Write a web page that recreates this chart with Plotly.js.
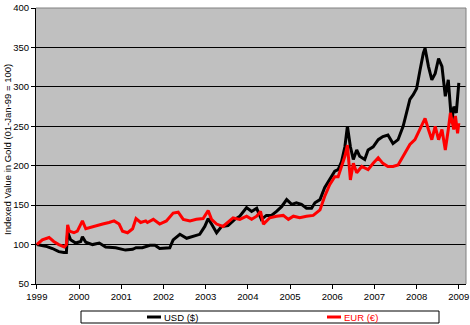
<!DOCTYPE html>
<html>
<head>
<meta charset="utf-8">
<script src="https://cdn.plot.ly/plotly-3.0.1.min.js"></script>
<style>html,body{margin:0;padding:0;background:#fff;}#chart{width:470px;height:325px;}</style>
</head>
<body>
<div id="chart"></div>
<script>
// Decimal-year time points and values
const usdYears = [1999.00,1999.10,1999.21,1999.37,1999.52,1999.64,1999.70,1999.73,1999.80,1999.92,2000.04,2000.08,2000.16,2000.32,2000.48,2000.63,2000.87,2001.10,2001.27,2001.35,2001.50,2001.68,2001.80,2001.91,2002.15,2002.23,2002.39,2002.55,2002.70,2002.86,2002.98,2003.06,2003.14,2003.26,2003.38,2003.53,2003.69,2003.81,2003.97,2004.09,2004.21,2004.32,2004.44,2004.56,2004.68,2004.80,2004.92,2005.04,2005.15,2005.27,2005.39,2005.51,2005.59,2005.71,2005.82,2005.94,2006.06,2006.14,2006.22,2006.30,2006.36,2006.43,2006.50,2006.58,2006.65,2006.77,2006.85,2006.97,2007.09,2007.20,2007.32,2007.44,2007.56,2007.68,2007.76,2007.84,2007.92,2008.00,2008.08,2008.16,2008.20,2008.28,2008.36,2008.44,2008.52,2008.60,2008.68,2008.75,2008.83,2008.88,2008.94,2009.00];
const usdValues = [100,99,98,95,91,90,90,116,106,102,104,110,103,100,102,97,96,93,94,96,96,99,99,95,96,106,113,108,110,113,123,133,126,115,123,124,132,136,147,142,146,132,137,137,142,148,157,151,153,151,146,146,153,157,172,182,193,195,205,224,250,224,208,220,212,208,220,224,233,237,239,228,233,250,269,284,290,298,321,343,349,326,309,317,336,326,288,309,254,275,267,305];

const eurYears = [1999.00,1999.13,1999.29,1999.40,1999.52,1999.65,1999.70,1999.73,1999.77,1999.88,1999.96,2000.08,2000.16,2000.28,2000.44,2000.56,2000.71,2000.83,2000.95,2001.03,2001.15,2001.27,2001.35,2001.46,2001.58,2001.62,2001.76,2001.91,2002.07,2002.23,2002.35,2002.47,2002.63,2002.78,2002.94,2003.06,2003.14,2003.26,2003.41,2003.53,2003.65,2003.81,2003.97,2004.09,2004.21,2004.30,2004.37,2004.52,2004.68,2004.84,2004.96,2005.08,2005.23,2005.39,2005.55,2005.71,2005.82,2005.94,2006.06,2006.14,2006.22,2006.30,2006.36,2006.43,2006.50,2006.58,2006.70,2006.85,2006.97,2007.09,2007.20,2007.32,2007.44,2007.56,2007.68,2007.76,2007.84,2007.96,2008.08,2008.20,2008.28,2008.36,2008.44,2008.52,2008.60,2008.68,2008.75,2008.80,2008.88,2008.92,2008.97,2009.00];
const eurValues = [100,106,109,104,100,97,100,125,117,115,117,130,120,122,124,126,128,130,126,117,115,120,133,128,130,128,132,126,130,140,141,132,130,132,133,143,132,126,123,128,134,132,136,132,136,142,126,134,136,137,132,136,134,136,137,144,161,176,186,186,199,212,226,182,203,191,199,195,203,210,203,199,199,201,212,220,227,233,246,260,246,233,250,233,246,220,246,267,246,263,241,254];

const xTickVals = [1999,2000,2001,2002,2003,2004,2005,2006,2007,2008,2009];
const xTickText = ['1999','2000','2001','2002','2003','2004','2005','2006','2007','2008','2009'];
const seriesNames = ['USD ($)', 'EUR (\u20AC)'];
const yTitle = 'Indexed Value in Gold (01-Jan-99 = 100)';

const W = 470, H = 325, M = {l:36, r:4, t:8, b:41};
const pw = W - M.l - M.r, ph = H - M.t - M.b;
const px = x => (x - M.l) / pw;          // pixel -> paper x
const py = y => (H - M.b - y) / ph;      // pixel -> paper y
const FONT = 'Arial, "Liberation Sans", sans-serif';

const traces = [
  {x: usdYears, y: usdValues, name: seriesNames[0], type: 'scatter', mode: 'lines',
   line: {color: '#000000', width: 3}},
  {x: eurYears, y: eurValues, name: seriesNames[1], type: 'scatter', mode: 'lines',
   line: {color: '#FF0000', width: 3}}
];

const layout = {
  width: W, height: H,
  margin: M,
  paper_bgcolor: '#FFFFFF',
  plot_bgcolor: '#C0C0C0',
  showlegend: false,
  font: {family: FONT, size: 10, color: '#000'},
  xaxis: {
    type: 'linear', range: [1998.98, 2009.17],
    tickmode: 'array', tickvals: xTickVals, ticktext: xTickText,
    ticks: 'outside', ticklen: 4, tickcolor: '#000', tickwidth: 1,
    showgrid: false, zeroline: false,
    showline: true, linecolor: '#000', linewidth: 1,
    tickfont: {family: FONT, size: 9.5, color: '#000'}
  },
  yaxis: {
    range: [50, 400], dtick: 50, tick0: 50,
    ticks: 'outside', ticklen: 4, tickcolor: '#000', tickwidth: 1,
    showgrid: true, gridcolor: '#000', gridwidth: 1,
    zeroline: false,
    showline: true, linecolor: '#000', linewidth: 1,
    tickfont: {family: FONT, size: 9.5, color: '#000'}
  },
  shapes: [
    {type: 'line', xref: 'paper', yref: 'paper', x0: 0, x1: 1, y0: 1, y1: 1,
     line: {color: '#808080', width: 1}},
    {type: 'line', xref: 'paper', yref: 'paper', x0: 1, x1: 1, y0: 0, y1: 1,
     line: {color: '#808080', width: 1}},
    {type: 'rect', xref: 'paper', yref: 'paper', x0: px(81), x1: px(439), y0: py(311), y1: py(323),
     line: {color: '#000', width: 1}, fillcolor: '#FFFFFF'},
    {type: 'line', xref: 'paper', yref: 'paper', x0: px(147), x1: px(161), y0: py(317), y1: py(317),
     line: {color: '#000', width: 3}},
    {type: 'line', xref: 'paper', yref: 'paper', x0: px(327), x1: px(341), y0: py(317), y1: py(317),
     line: {color: '#FF0000', width: 3}}
  ],
  annotations: [
    {text: yTitle, xref: 'paper', yref: 'paper', x: px(7), y: py(150), textangle: -90,
     showarrow: false, xanchor: 'center', yanchor: 'middle',
     font: {family: FONT, size: 9.5, color: '#000'}},
    {text: seriesNames[0], xref: 'paper', yref: 'paper', x: px(162), y: py(317),
     showarrow: false, xanchor: 'left', yanchor: 'middle',
     font: {family: FONT, size: 9.5, color: '#000'}},
    {text: seriesNames[1], xref: 'paper', yref: 'paper', x: px(342), y: py(317),
     showarrow: false, xanchor: 'left', yanchor: 'middle',
     font: {family: FONT, size: 9.5, color: '#FF0000'}}
  ]
};

Plotly.newPlot('chart', traces, layout, {staticPlot: true, displayModeBar: false});
</script>
</body>
</html>
